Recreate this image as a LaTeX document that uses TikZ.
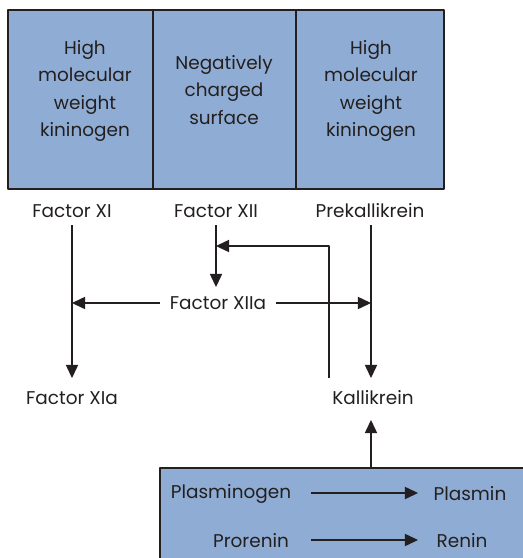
\documentclass[tikz,border=0pt]{standalone}
\usepackage{fontspec}
\setmainfont{Poppins}
\usetikzlibrary{arrows.meta}
\definecolor{panel}{RGB}{143,173,212}
\definecolor{ink}{RGB}{35,31,32}
\begin{document}
\begin{tikzpicture}[x=.02cm,y=-.02cm,>={Triangle[length=7.5pt,width=7pt]},line join=round,font=\fontsize{10.5}{15.6}\selectfont,
	every node/.style={text=ink,inner sep=1pt},
	lbl/.style={align=center},
	line/.style={draw=ink,line width=.6pt}]
	\useasboundingbox (0,0) rectangle (523,558);
	\clip (0,0) rectangle (523,558);
	% top panel with three boxes
	\filldraw[fill=panel,line] (8,10) rectangle (444,189);
	\draw[line] (153,10) -- (153,189) (296,10) -- (296,189);
	\node[lbl] (hmw1) at (85,91) {High\\molecular\\weight\\kininogen};
	\node[lbl] (surf) at (224,90) {Negatively\\charged\\surface};
	\node[lbl] (hmw2) at (371,91) {High\\molecular\\weight\\kininogen};
	% bottom panel
	\filldraw[fill=panel,line] (160,468) rectangle (540,570);
	% factors
	\node (xi) at (72,211) {Factor XI};
	\node (xii) at (216,211) {Factor XII};
	\node (pk) at (370,211) {Prekallikrein};
	\node (xiia) at (218,303) {Factor XIIa};
	\node (xia) at (72,398) {Factor XIa};
	\node (kal) at (373,398) {Kallikrein};
	\node (plg) at (231,494) {Plasminogen};
	\node (pl) at (470,494) {Plasmin};
	\node (pro) at (251,541) {Prorenin};
	\node (ren) at (462,541) {Renin};
	\coordinate (a) at (72,303);
	\coordinate (b) at (371,303);
	\coordinate (c) at (216,246);
	\coordinate (d) at (329,378);
	\coordinate (e) at (371,468);
	% arrows
	\draw[line,->] (72,225) -- (72,378);
	\draw[line,->] (216,225) -- (216,287);
	\draw[line,->] (371,225) -- (371,378);
	\draw[line,->] (xiia.west) ++(-8,0) -- (a);
	\draw[line,->] (xiia.east) ++(8,0) -- (b);
	\draw[line,->] (d) |- (c);
	\draw[line,->] (e) -- (371,420);
	\draw[line,->] (311,493) -- (418,493);
	\draw[line,->] (311,540) -- (418,540);
\end{tikzpicture}
\end{document}
